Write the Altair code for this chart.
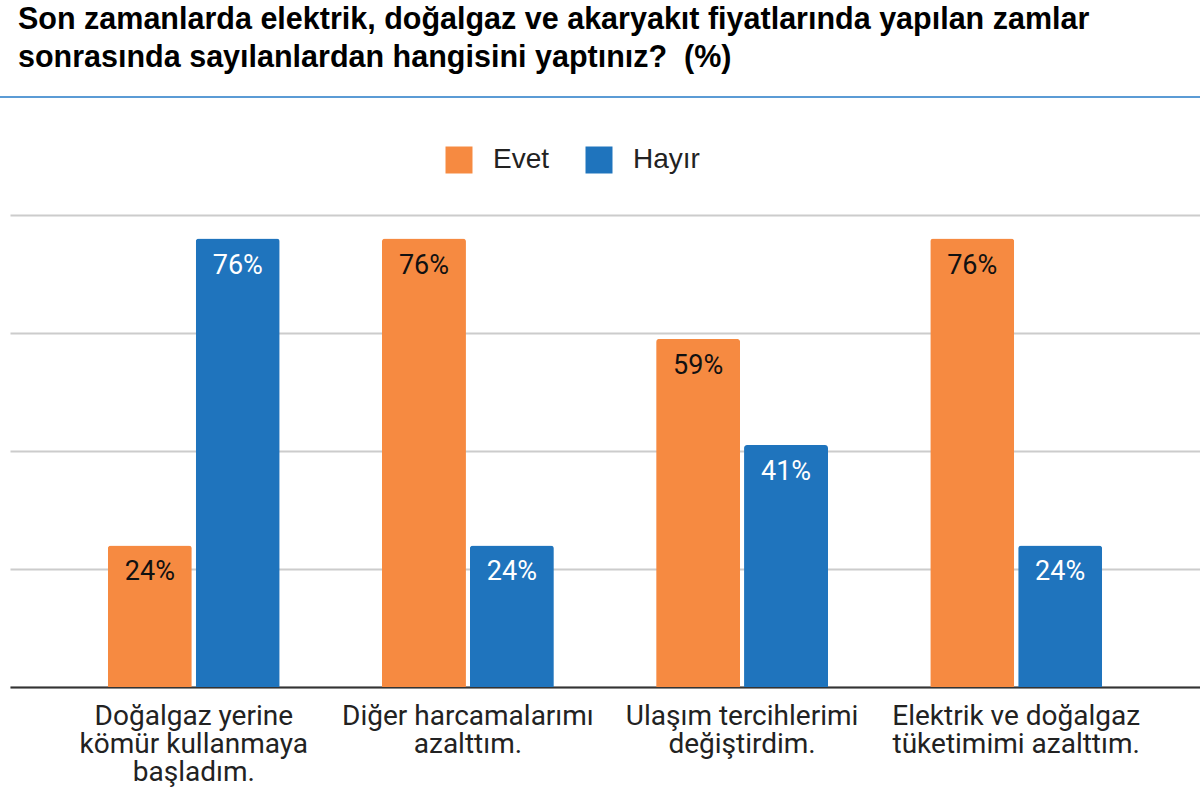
import altair as alt
import pandas as pd

categories = [
    "Doğalgaz yerine|kömür kullanmaya|başladım.",
    "Diğer harcamalarımı|azalttım.",
    "Ulaşım tercihlerimi|değiştirdim.",
    "Elektrik ve doğalgaz|tüketimimi azalttım.",
]
evet = [24, 76, 59, 76]
hayir = [76, 24, 41, 24]
series = ["Evet", "Hayır"]
colors = ["#F68A41", "#1F74BD"]
title_lines = [
    "Son zamanlarda elektrik, doğalgaz ve akaryakıt fiyatlarında yapılan zamlar",
    "sonrasında sayılanlardan hangisini yaptınız?\u00a0 (%)",
]

rows = []
for c, e, h in zip(categories, evet, hayir):
    rows.append({"cat": c, "seri": "Evet", "val": e, "lbl": f"{e}%"})
    rows.append({"cat": c, "seri": "Hayır", "val": h, "lbl": f"{h}%"})
df = pd.DataFrame(rows)

W, H = 1190, 472

base = alt.Chart(df).encode(
    x=alt.X("cat:N", sort=categories, title=None,
            scale=alt.Scale(paddingInner=0.373, paddingOuter=0.357),
            axis=alt.Axis(labelExpr="split(datum.label, '|')", labelAngle=0,
                          labelFont="Roboto", labelFontSize=28, labelColor="#222222",
                          labelLineHeight=28, labelPadding=15, ticks=False,
                          domainColor="#333333", domainWidth=2, labelLimit=400)),
    xOffset=alt.XOffset("seri:N", sort=series,
                        scale=alt.Scale(paddingInner=0.045, paddingOuter=0)),
)

bars = base.mark_bar(cornerRadiusTopLeft=3, cornerRadiusTopRight=3).encode(
    y=alt.Y("val:Q", title=None, scale=alt.Scale(domain=[0, 80]),
            axis=alt.Axis(values=[0, 20, 40, 60, 80], labels=False, ticks=False,
                          domain=False, gridColor="#cccccc", gridWidth=2)),
    color=alt.Color("seri:N", sort=series,
                    scale=alt.Scale(domain=series, range=colors),
                    legend=alt.Legend(title=None, orient="none", direction="horizontal",
                                      legendX=435, legendY=-69, padding=0,
                                      symbolType="square", symbolSize=729,
                                      symbolStrokeWidth=0, symbolOpacity=1,
                                      labelFont="Liberation Sans", labelFontSize=28,
                                      labelColor="#222222", labelOffset=20,
                                      columnPadding=35)),
)

texts = base.mark_text(font="Roboto", fontSize=27, baseline="middle", dy=27).encode(
    y=alt.Y("val:Q"),
    text="lbl:N",
    color=alt.Color("seri:N", sort=series,
                    scale=alt.Scale(domain=series, range=["#111111", "#ffffff"]),
                    legend=None),
)

line_df = pd.DataFrame({"k": [0]})
topline = alt.Chart(line_df).mark_rule(color="#5B9BD5", strokeWidth=2).encode(
    x=alt.value(-10), x2=alt.value(W), y=alt.value(-118)
)

chart = alt.layer(bars, texts, topline).resolve_scale(color="independent").properties(
    width=W, height=H,
    autosize=alt.AutoSizeParams(type="none"),
    padding={"left": 10, "top": 215, "right": 0, "bottom": 109},
    title=alt.TitleParams(text=title_lines, anchor="start", frame="group",
                          font="Liberation Sans", fontSize=30.5, fontWeight=900,
                          color="#000000", lineHeight=38, offset=23, dx=8),
).configure_view(stroke=None)

chart.save("out.html", embed_options={"renderer": "svg", "actions": False})
